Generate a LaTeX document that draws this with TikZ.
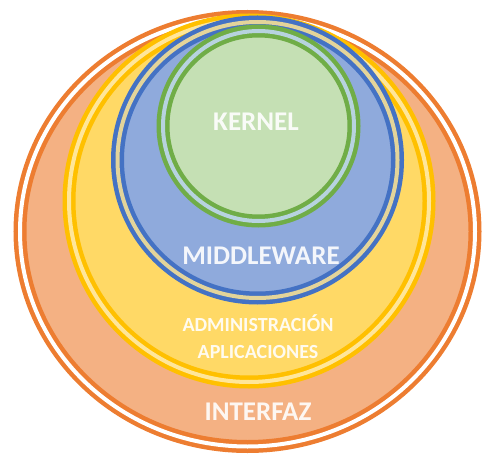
\documentclass[tikz,border=0pt]{standalone}
\usepackage{fontspec}
\setmainfont{Carlito}
\usepackage{tikz}
\usetikzlibrary{shapes.geometric}

\definecolor{orangeline}{HTML}{ED7D31}
\definecolor{orangefill}{HTML}{F4B183}
\definecolor{yellowline}{HTML}{FFC000}
\definecolor{yellowfill}{HTML}{FFD966}
\definecolor{yellowgap}{HTML}{FFE699}
\definecolor{blueline}{HTML}{4472C4}
\definecolor{bluefill}{HTML}{8FAADC}
\definecolor{bluegap}{HTML}{E3D49A}
\definecolor{greenline}{HTML}{70AD47}
\definecolor{greenfill}{HTML}{C5E0B4}
\definecolor{greengap}{HTML}{B7D3DF}

\begin{document}
\begin{tikzpicture}[x=1pt,y=-1pt,
  layer/.style={shape=ellipse,inner sep=0pt,line width=4.5pt,double distance=4pt},
  label/.style={text=white,text opacity=0.9,font=\bfseries\fontsize{27}{30}\selectfont},
  small label/.style={label,font=\bfseries\fontsize{20}{23}\selectfont}]

\useasboundingbox (0,0) rectangle (484,457);

% layers, outermost first
\node (interfaz) at (247.5, 231.5) [layer,draw=orangeline,double=white,fill=orangefill,
  minimum width=455pt,minimum height=430pt]{};
\node (aplicaciones) at (249, 201) [layer,draw=yellowline,double=yellowgap,fill=yellowfill,
  minimum width=360pt,minimum height=362pt]{};
\node (middleware) at (257.5, 160) [layer,draw=blueline,double=bluegap,fill=bluefill,
  minimum width=280pt,minimum height=276pt]{};
\node (kernel) at (258.5, 126) [layer,draw=greenline,double=greengap,fill=greenfill,
  minimum width=191pt,minimum height=190pt]{};

% texts
\node (kerneltext) at (256, 122) [label]{KERNEL};
\node (middlewaretext) at (261, 256) [label]{MIDDLEWARE};
\node (admintext) at (258, 323) [small label]{ADMINISTRACIÓN};
\node (aplictext) at (258, 352) [small label]{APLICACIONES};
\node (interfaztext) at (258, 412) [label]{INTERFAZ};

\end{tikzpicture}
\end{document}
